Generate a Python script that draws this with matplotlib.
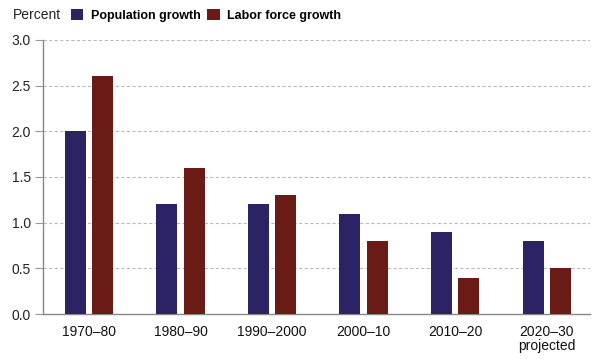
import matplotlib
matplotlib.use("Agg")
import matplotlib.pyplot as plt
import numpy as np

plt.rcParams['font.family'] = ['Liberation Sans', 'DejaVu Sans']

categories = ["1970–80", "1980–90", "1990–2000", "2000–10", "2010–20", "2020–30\nprojected"]
population_growth = [2.0, 1.2, 1.2, 1.1, 0.9, 0.8]
labor_force_growth = [2.6, 1.6, 1.3, 0.8, 0.4, 0.5]
yticks = [0.0, 0.5, 1.0, 1.5, 2.0, 2.5, 3.0]

pop_color = '#2c2364'
lab_color = '#6a1b16'

fig = plt.figure(figsize=(6.0, 3.59), dpi=100)
ax = fig.add_axes([0.072, 0.125, 0.911, 0.764])

x = np.arange(len(categories))
w = 0.23
off = 0.15
b1 = ax.bar(x - off, population_growth, w, color=pop_color, zorder=3, label='Population growth')
b2 = ax.bar(x + off, labor_force_growth, w, color=lab_color, zorder=3, label='Labor force growth')

ax.set_xlim(-0.5, 5.47)
ax.set_ylim(0, 3.0)
ax.set_yticks(yticks)
ax.set_yticklabels([f"{v:.1f}" for v in yticks], fontsize=10, color='#222222')
ax.set_xticks(x)
ax.set_xticklabels(categories, fontsize=10, color='#111111', linespacing=1.0)
ax.tick_params(axis='x', length=0, pad=8)
ax.tick_params(axis='y', length=6, width=0.8, color='#999999', pad=3, direction='out')

for v in yticks[1:]:
    ax.axhline(v, color='#bbbbbb', lw=0.8, ls=(0, (3, 2)), zorder=1)

for s in ['top', 'right']:
    ax.spines[s].set_visible(False)
ax.spines['left'].set_color('#888888')
ax.spines['bottom'].set_color('#888888')
ax.spines['left'].set_linewidth(1.0)
ax.spines['bottom'].set_linewidth(1.0)

fig.text(0.022, 0.958, "Percent", fontsize=10, va='center', ha='left', color='#222222')
fig.legend(handles=[b1, b2], loc='center left', bbox_to_anchor=(0.118, 0.958),
           ncol=2, frameon=False, handlelength=1.0, handleheight=1.0,
           handletextpad=0.6, columnspacing=0.55, borderpad=0, borderaxespad=0,
           prop={'size': 9, 'weight': 'bold'})

fig.savefig('out.png', dpi=100)
